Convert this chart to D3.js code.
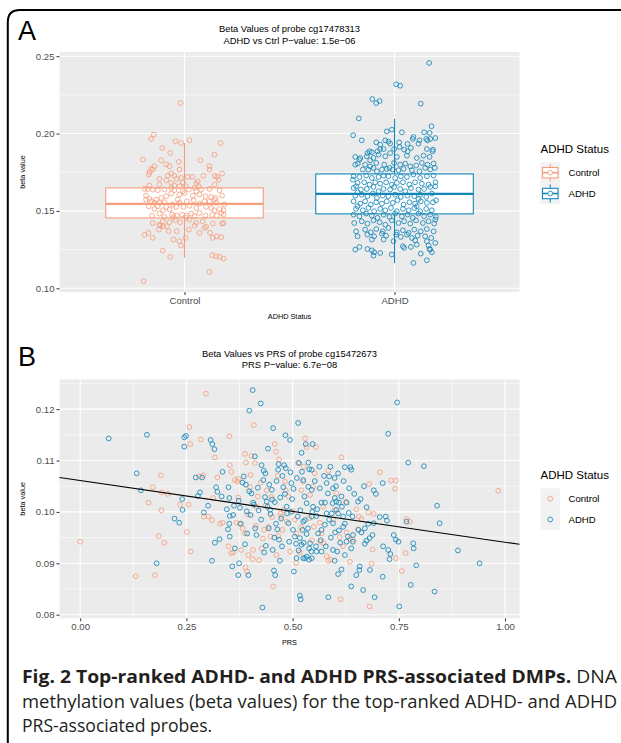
<!DOCTYPE html>
<html>
<head>
<meta charset="utf-8">
<script src="https://cdn.jsdelivr.net/npm/d3@7"></script>
<style>
  body { margin: 0; background: #fff; }
  text { font-family: "Liberation Sans", Arial, sans-serif; }
  text.caption { font-family: "Open Sans", "Noto Sans", sans-serif; }
</style>
</head>
<body>
<svg id="fig" width="621" height="743"></svg>
<script>
// ---- data: panel A (jittered beta values per group, offset in category units) ----
var categories = ["Control", "ADHD"];
var statusColors = ["#F59E7D", "#1487B8"];

// box stats: [lower whisker, q1, median, q3, upper whisker]
var controlBox = [0.1196, 0.1455, 0.1545, 0.1649, 0.1939];
var adhdBox = [0.1162, 0.1481, 0.1610, 0.1739, 0.2096];

var controlPoints = [
  [-0.019,0.2198],
  [-0.146,0.1993],[-0.159,0.1965],[-0.043,0.1950],[0.024,0.1957],[-0.016,0.1939],[0.171,0.1939],
  [-0.106,0.1907],[-0.068,0.1875],[0.143,0.1864],
  [-0.198,0.1832],[-0.111,0.1827],[0.076,0.1827],[-0.027,0.1817],[-0.087,0.1801],[0.119,0.1789],[-0.143,0.1789],[-0.071,0.1789],
  [-0.159,0.1773],[0.119,0.1767],[-0.167,0.1750],[-0.024,0.1767],[-0.151,0.1767],[0.179,0.1741],[0.143,0.1728],[-0.170,0.1735],[-0.063,0.1741],[-0.079,0.1728],[-0.048,0.1728],[0.016,0.1720],[0.037,0.1720],[0.090,0.1728],[0.154,0.1720],
  [-0.119,0.1707],[-0.037,0.1707],[-0.016,0.1713],[-0.087,0.1698],[-0.008,0.1685],[0.063,0.1692],[0.163,0.1702],[0.056,0.1677],[-0.063,0.1681],[-0.119,0.1670],[-0.167,0.1664],[0.005,0.1659],[0.068,0.1659],[0.143,0.1670],[-0.048,0.1664],[-0.024,0.1659],
  [-0.190,0.1642],[-0.175,0.1642],[-0.151,0.1638],[-0.127,0.1634],[-0.095,0.1638],[-0.063,0.1649],[0.021,0.1638],[0.048,0.1649],[0.056,0.1627],[0.079,0.1638],[0.119,0.1642],[0.167,0.1634],[-0.008,0.1627],[-0.048,0.1634],
  [-0.183,0.1599],[-0.087,0.1595],[-0.024,0.1606],[0.000,0.1616],[0.040,0.1599],[0.071,0.1606],[0.100,0.1595],[0.127,0.1590],[0.148,0.1584],[0.179,0.1599],[-0.111,0.1584],[-0.135,0.1573],[-0.063,0.1612],
  [-0.183,0.1573],[-0.167,0.1578],[-0.159,0.1562],[-0.143,0.1552],[-0.119,0.1552],[-0.095,0.1556],[-0.056,0.1541],[-0.032,0.1573],[-0.024,0.1552],[0.011,0.1562],[0.044,0.1569],[0.071,0.1547],[0.095,0.1562],[0.119,0.1562],[0.143,0.1573],[0.151,0.1552],[0.190,0.1541],
  [-0.170,0.1530],[-0.127,0.1530],[-0.087,0.1526],[-0.071,0.1509],[-0.040,0.1526],[-0.005,0.1526],[0.024,0.1534],[0.056,0.1519],[0.103,0.1526],[0.127,0.1519],[0.143,0.1504],[0.167,0.1513],[0.186,0.1504],[-0.103,0.1504],[-0.143,0.1513],
  [-0.154,0.1470],[-0.119,0.1483],[-0.095,0.1461],[-0.059,0.1476],[-0.037,0.1470],[-0.011,0.1476],[0.008,0.1470],[0.032,0.1483],[0.048,0.1466],[0.071,0.1487],[0.100,0.1470],[0.132,0.1474],[0.154,0.1470],[0.175,0.1487],[0.186,0.1476],[-0.052,0.1461],[0.008,0.1455],
  [-0.151,0.1422],[-0.103,0.1433],[-0.071,0.1427],[-0.043,0.1440],[-0.021,0.1427],[0.024,0.1444],[0.056,0.1422],[0.087,0.1433],[0.135,0.1418],[0.179,0.1418],[-0.119,0.1412],[-0.084,0.1401],[0.048,0.1405],[0.103,0.1397],[0.186,0.1422],
  [-0.116,0.1405],[-0.103,0.1401],[-0.075,0.1369],[0.021,0.1379],[0.071,0.1358],[0.122,0.1358],[-0.171,0.1358],[-0.190,0.1345],[-0.151,0.1326],[-0.052,0.1315],[0.005,0.1326],[0.135,0.1326],[0.154,0.1336],[0.175,0.1330],[-0.037,0.1369],[0.095,0.1390],[-0.122,0.1379],
  [-0.024,0.1304],[-0.016,0.1276],[-0.103,0.1244],[-0.068,0.1203],[0.132,0.1214],[0.151,0.1207],[0.167,0.1203],[0.186,0.1192],
  [0.119,0.1106],[-0.195,0.1046]
];

var adhdPoints = [
  [0.165,0.2456],[0.008,0.2318],[0.027,0.2309],[-0.106,0.2223],[-0.087,0.2197],[-0.071,0.2210],[0.125,0.2193],[-0.170,0.2098],
  [-0.197,0.1989],[0.176,0.2047],[-0.037,0.2014],[-0.013,0.2025],[0.035,0.2008],[0.141,0.2008],[0.167,0.2004],[-0.156,0.1956],[-0.087,0.1943],[-0.044,0.1956],[-0.029,0.1948],[0.022,0.1943],[0.090,0.1978],[0.119,0.1956],[0.087,0.1965],[0.151,0.1965],[0.170,0.1965],[0.194,0.1971],[-0.068,0.1900],[-0.021,0.1935],[0.062,0.1933],[0.114,0.1935],[0.157,0.1956],
  [-0.119,0.1885],[-0.129,0.1874],[-0.108,0.1879],[-0.081,0.1885],[-0.052,0.1900],[-0.068,0.1928],[-0.002,0.1900],[0.024,0.1913],[0.046,0.1896],[0.078,0.1907],[0.154,0.1900],[0.183,0.1896],[-0.187,0.1849],[-0.163,0.1842],[-0.132,0.1853],[-0.100,0.1842],[-0.076,0.1864],[-0.044,0.1853],[-0.021,0.1874],[0.011,0.1849],[0.059,0.1857],[0.106,0.1842],[0.138,0.1857],[0.167,0.1849],[0.181,0.1885],[0.062,0.1885],[-0.167,0.1831],[-0.116,0.1827],
  [-0.187,0.1799],[-0.175,0.1806],[-0.140,0.1799],[-0.116,0.1788],[-0.087,0.1810],[-0.049,0.1799],[-0.024,0.1778],[-0.002,0.1810],[0.027,0.1799],[0.051,0.1806],[0.075,0.1788],[0.103,0.1793],[0.130,0.1810],[0.157,0.1799],[0.186,0.1806],[-0.151,0.1767],[-0.124,0.1767],[-0.084,0.1756],[-0.060,0.1767],[-0.037,0.1771],[-0.008,0.1767],[0.019,0.1763],[0.043,0.1771],[0.083,0.1763],[0.119,0.1756],[0.170,0.1767],[0.192,0.1778],[-0.100,0.1778],[0.146,0.1778],
  [-0.195,0.1724],[-0.167,0.1719],[-0.135,0.1728],[-0.108,0.1713],[-0.076,0.1719],[-0.052,0.1728],[-0.029,0.1724],[0.003,0.1713],[0.030,0.1724],[0.059,0.1719],[0.090,0.1735],[0.122,0.1713],[0.154,0.1724],[0.186,0.1728],[-0.176,0.1681],[-0.144,0.1685],[-0.119,0.1670],[-0.092,0.1685],[-0.068,0.1676],[-0.040,0.1685],[-0.013,0.1670],[0.011,0.1681],[0.040,0.1685],[0.071,0.1670],[0.098,0.1685],[0.130,0.1676],[0.162,0.1670],[0.195,0.1685],[-0.198,0.1702],[-0.183,0.1659],
  [-0.195,0.1648],[-0.160,0.1638],[-0.132,0.1642],[-0.100,0.1655],[-0.076,0.1627],[-0.052,0.1642],[-0.021,0.1638],[-0.002,0.1655],[0.027,0.1642],[0.051,0.1627],[0.078,0.1648],[0.114,0.1638],[0.141,0.1642],[0.170,0.1655],[0.194,0.1659],[-0.187,0.1599],[-0.156,0.1605],[-0.129,0.1595],[-0.103,0.1612],[-0.084,0.1584],[-0.056,0.1599],[-0.029,0.1595],[0.003,0.1605],[0.030,0.1590],[0.062,0.1599],[0.094,0.1595],[0.122,0.1605],[0.151,0.1590],[0.178,0.1612],[-0.176,0.1620],[0.114,0.1577],
  [-0.195,0.1562],[-0.163,0.1547],[-0.140,0.1562],[-0.113,0.1541],[-0.087,0.1556],[-0.060,0.1547],[-0.037,0.1562],[-0.008,0.1552],[0.014,0.1569],[0.043,0.1541],[0.071,0.1556],[0.098,0.1547],[0.125,0.1562],[0.154,0.1552],[0.183,0.1556],[0.198,0.1569],[-0.183,0.1513],[-0.151,0.1504],[-0.124,0.1519],[-0.097,0.1498],[-0.068,0.1513],[-0.044,0.1504],[-0.017,0.1519],[0.011,0.1498],[0.040,0.1513],[0.067,0.1504],[0.094,0.1519],[0.122,0.1498],[0.151,0.1513],[0.178,0.1504],[-0.176,0.1530],[0.106,0.1530],
  [-0.195,0.1476],[-0.167,0.1465],[-0.135,0.1483],[-0.108,0.1470],[-0.081,0.1455],[-0.052,0.1476],[-0.024,0.1461],[0.003,0.1483],[0.035,0.1465],[0.062,0.1476],[0.087,0.1455],[0.114,0.1483],[0.141,0.1465],[0.170,0.1476],[0.197,0.1461],[-0.192,0.1422],[-0.156,0.1433],[-0.129,0.1418],[-0.100,0.1439],[-0.071,0.1427],[-0.044,0.1411],[-0.013,0.1439],[0.019,0.1422],[0.046,0.1433],[0.075,0.1418],[0.103,0.1439],[0.135,0.1422],[0.162,0.1433],[0.189,0.1418],[0.194,0.1444],
  [-0.183,0.1368],[-0.140,0.1379],[-0.113,0.1362],[-0.087,0.1383],[-0.056,0.1368],[-0.029,0.1390],[0.011,0.1362],[0.040,0.1375],[0.067,0.1358],[0.094,0.1379],[0.125,0.1368],[0.154,0.1383],[0.186,0.1368],[-0.176,0.1336],[-0.129,0.1347],[-0.097,0.1336],[-0.060,0.1353],[-0.040,0.1340],[0.008,0.1347],[0.030,0.1332],[0.059,0.1347],[0.083,0.1325],[0.110,0.1340],[0.146,0.1336],[0.175,0.1325],[-0.108,0.1315],[-0.052,0.1315],[-0.005,0.1304],[0.098,0.1310],[0.154,0.1304],
  [-0.187,0.1250],[-0.167,0.1267],[-0.129,0.1254],[-0.108,0.1245],[-0.097,0.1233],[-0.100,0.1211],[-0.068,0.1228],[-0.013,0.1218],[0.040,0.1272],[0.046,0.1261],[0.078,0.1267],[0.106,0.1282],[0.125,0.1224],[0.162,0.1276],[0.170,0.1250],[0.178,0.1233],[0.194,0.1293],[0.090,0.1164],[0.154,0.1181],[0.167,0.1254]
];
var yTicksA = [0.10, 0.15, 0.20, 0.25];
var yMinorA = [0.125, 0.175, 0.225];

// ---- data: panel B (PRS, beta value) ----
var prsControl = [
  [0.000,0.0942],[0.131,0.0875],[0.161,0.1018],[0.171,0.1048],[0.176,0.0877],[0.185,0.0953],[0.190,0.1071],[0.191,0.1003],[0.192,0.1038],[0.198,0.0940],[0.206,0.1035],[0.235,0.1014],[0.251,0.0961],[0.255,0.1014],[0.257,0.1165],[0.259,0.1132],[0.260,0.0923],[0.284,0.1141],[0.280,0.1069],[0.290,0.1071],[0.291,0.0991],[0.296,0.1230],[0.302,0.0991],[0.310,0.0984],[0.313,0.1027],[0.317,0.1106],[0.323,0.1067],[0.329,0.0977],[0.335,0.0979],[0.351,0.1147],[0.352,0.1091],[0.356,0.1078],[0.349,0.0933],[0.355,0.0920],[0.360,0.0921],[0.364,0.1062],[0.368,0.0979],[0.370,0.1059],[0.373,0.1064],[0.376,0.0977],[0.379,0.0926],[0.382,0.0968],[0.388,0.0958],[0.388,0.1113],[0.390,0.1096],[0.389,0.0892],[0.393,0.0884],[0.396,0.0916],[0.400,0.1048],[0.401,0.1072],[0.403,0.1109],[0.406,0.0908],[0.407,0.0926],[0.409,0.1169],[0.411,0.1095],[0.414,0.0973],[0.415,0.1010],[0.421,0.0906],[0.425,0.1057],[0.427,0.0929],[0.433,0.0965],[0.439,0.1042],[0.443,0.0971],[0.448,0.0952],[0.450,0.1029],[0.454,0.0855],[0.458,0.1132],[0.461,0.1117],[0.462,0.0916],[0.466,0.0953],[0.468,0.1102],[0.471,0.0997],[0.474,0.0991],[0.479,0.1004],[0.482,0.1059],[0.484,0.1042],[0.486,0.0981],[0.494,0.0923],[0.500,0.1001],[0.508,0.0901],[0.509,0.0958],[0.513,0.1096],[0.517,0.0921],[0.521,0.1042],[0.525,0.1059],[0.526,0.1088],[0.529,0.1143],[0.533,0.1126],[0.539,0.0988],[0.548,0.1049],
  [0.555,0.1126],[0.615,0.1106],[0.705,0.1077],[0.680,0.1054],[0.732,0.1061],[0.743,0.1061],[0.741,0.1045],[0.552,0.1075],[0.584,0.1080],[0.603,0.1036],[0.541,0.1033],[0.678,0.0999],[0.691,0.0996],[0.656,0.0991],[0.662,0.0986],[0.768,0.0986],[0.776,0.0981],[0.654,0.0966],[0.627,0.0960],[0.635,0.0947],[0.642,0.0946],[0.611,0.0951],[0.568,0.0958],[0.565,0.0942],[0.573,0.0939],[0.550,0.0971],[0.580,0.0914],[0.589,0.0907],[0.584,0.0905],[0.619,0.0933],[0.635,0.0903],[0.688,0.0927],[0.686,0.0899],[0.743,0.0910],[0.766,0.0920],[0.757,0.0885],[0.613,0.0830],[0.681,0.0816],[0.984,0.1041],[0.599,0.1004],[0.564,0.0979],
  [0.372,0.1028],[0.395,0.0995],[0.418,0.1030],[0.436,0.1012],[0.452,0.0990],[0.476,0.0965],[0.490,0.1030],[0.505,0.0985],[0.520,0.0970],[0.546,0.0945],[0.572,0.1010],[0.596,0.0985],[0.625,0.1020],[0.650,0.1005],[0.430,0.0948],[0.465,0.1070]
];

var prsAdhd = [
  [0.067,0.1143],[0.157,0.1150],[0.133,0.1075],[0.143,0.1042],[0.180,0.0900],[0.222,0.0987],[0.233,0.0979],[0.240,0.1025],[0.241,0.1004],[0.245,0.1127],[0.245,0.1145],[0.249,0.1148],[0.272,0.1067],[0.287,0.1067],[0.282,0.1038],[0.277,0.1031],[0.291,0.0999],[0.301,0.1012],[0.307,0.1140],[0.311,0.1132],[0.316,0.1122],[0.310,0.0905],[0.317,0.0940],[0.328,0.0947],[0.320,0.1048],[0.323,0.1039],[0.335,0.1078],[0.333,0.1030],[0.349,0.1048],[0.351,0.1027],[0.345,0.1005],[0.352,0.0992],[0.351,0.0977],[0.348,0.0966],[0.352,0.0952],[0.358,0.0894],[0.360,0.0994],[0.364,0.0929],[0.372,0.0877],[0.374,0.0900],[0.373,0.1022],[0.376,0.1008],[0.378,0.0977],[0.382,0.1057],[0.385,0.1069],[0.390,0.1053],[0.396,0.0877],[0.388,0.0937],[0.393,0.0958],[0.398,0.1197],[0.401,0.0994],[0.403,0.1036],[0.406,0.1237],[0.407,0.1018],[0.409,0.1014],[0.411,0.1108],[0.415,0.0955],[0.420,0.1003],[0.425,0.1211],[0.427,0.1091],[0.429,0.0814],[0.431,0.1062],[0.432,0.1080],[0.433,0.0921],[0.435,0.1029],[0.437,0.0934],[0.439,0.1020],[0.441,0.1010],[0.442,0.1123],[0.445,0.1053],[0.447,0.1004],[0.448,0.0996],[0.451,0.1043],[0.453,0.0926],[0.454,0.1163],[0.456,0.0886],[0.459,0.0877],[0.458,0.1019],[0.461,0.0977],[0.464,0.0966],[0.466,0.1082],[0.467,0.1093],[0.468,0.0946],[0.470,0.0905],[0.471,0.1028],[0.475,0.0933],[0.478,0.1048],[0.480,0.1091],[0.483,0.1149],[0.484,0.1085],[0.486,0.1010],[0.487,0.0997],[0.490,0.0978],[0.494,0.1140],[0.495,0.1077],[0.497,0.1056],[0.499,0.1025],[0.501,0.0965],[0.503,0.0884],[0.505,0.0952],[0.508,0.0938],[0.509,0.0910],[0.512,0.0991],[0.513,0.1173],[0.515,0.1095],[0.517,0.0837],[0.519,0.0830],[0.521,0.1115],[0.522,0.1078],[0.525,0.0981],[0.526,0.0940],[0.529,0.0910],[0.531,0.1132],[0.533,0.1017],[0.537,0.1049],[0.539,0.1083],[0.541,0.0939],[0.544,0.0923],[0.548,0.1010],
  [0.547,0.1132],[0.537,0.1096],[0.545,0.1082],[0.563,0.1088],[0.525,0.1062],[0.545,0.1043],[0.564,0.1046],[0.580,0.1056],[0.586,0.1069],[0.589,0.1088],[0.599,0.1066],[0.607,0.1075],[0.623,0.1087],[0.636,0.1087],[0.638,0.1082],[0.595,0.1046],[0.633,0.1046],[0.599,0.1027],[0.615,0.1030],[0.568,0.1018],[0.576,0.1018],[0.594,0.1017],[0.603,0.1020],[0.609,0.1018],[0.627,0.1018],[0.654,0.1020],[0.660,0.1025],[0.674,0.1009],[0.691,0.1042],[0.696,0.1035],[0.712,0.1056],[0.545,0.0991],[0.556,0.0992],[0.580,0.0997],[0.592,0.0997],[0.603,0.1004],[0.607,0.0997],[0.619,0.0991],[0.641,0.0991],[0.595,0.0978],[0.623,0.0977],[0.619,0.0971],[0.529,0.0984],[0.533,0.0957],[0.521,0.0936],[0.539,0.0929],[0.555,0.0933],[0.556,0.0923],[0.568,0.0923],[0.578,0.0933],[0.533,0.0913],[0.525,0.0910],[0.539,0.0907],[0.545,0.0910],[0.595,0.0926],[0.605,0.0923],[0.599,0.0905],[0.607,0.0879],[0.615,0.0888],[0.623,0.0916],[0.627,0.0942],[0.630,0.0952],[0.638,0.0929],[0.642,0.0955],[0.642,0.0942],[0.658,0.0894],[0.657,0.0887],[0.650,0.0877],[0.638,0.0855],[0.666,0.0848],[0.584,0.0834],[0.670,0.0938],[0.674,0.0944],[0.681,0.0949],[0.662,0.0960],[0.670,0.0968],[0.678,0.0977],[0.691,0.0978],[0.682,0.0887],[0.693,0.0834],[0.712,0.0874],[0.713,0.0933],[0.725,0.0926],[0.728,0.0908],[0.730,0.0918],[0.719,0.0991],[0.722,0.0983],[0.725,0.1152],[0.746,0.1213],[0.738,0.0955],[0.743,0.0946],[0.749,0.0942],[0.751,0.0816],[0.768,0.0981],[0.772,0.1096],[0.778,0.0858],[0.784,0.0939],[0.785,0.0929],[0.791,0.0896],[0.809,0.1089],[0.834,0.0845],[0.840,0.1012],[0.846,0.0978],[0.889,0.0925],[0.940,0.0900],[0.560,0.0958],[0.568,0.0965],[0.576,0.0975],[0.600,0.0960],[0.609,0.0964],[0.517,0.0949],[0.523,0.0965],
  [0.362,0.1012],[0.392,0.1001],[0.418,0.1047],[0.426,0.0985],[0.444,0.0968],[0.452,0.1024],[0.462,0.1060],[0.473,0.0987],[0.482,0.1035],[0.492,0.0942],[0.502,0.1045],[0.510,0.1066],[0.518,0.1003],[0.528,0.1030],[0.536,0.0968],[0.552,0.1060],[0.558,0.1005],[0.566,0.0945],[0.574,0.1070],[0.583,0.1036],[0.590,0.0950],[0.602,0.1050],[0.612,0.0940],[0.620,0.1060],[0.632,0.0998],[0.645,0.1035],[0.655,0.0965],[0.668,0.1050],[0.688,0.0955],[0.705,0.0990],[0.412,0.0968],[0.398,0.1040],[0.436,0.1075],[0.457,0.0950],[0.476,0.1070],[0.496,0.1000],[0.514,0.0925],[0.546,0.1000],[0.586,0.0985],[0.616,0.1010]
];

// linear fit: [intercept, slope]
var prsFit = [0.1061, -0.0120];
var xTicksB = [0, 0.25, 0.5, 0.75, 1.0];
var xMinorB = [0.125, 0.375, 0.625, 0.875];
var yTicksB = [0.08, 0.09, 0.10, 0.11, 0.12];
var yMinorB = [0.085, 0.095, 0.105, 0.115, 0.125];

// ---- layout ----
var panelL = 59.5, panelR = 519.5;
var panelA = { top: 52, bottom: 292 };
var panelB = { top: 379.3, bottom: 618.3 };
var gridMajor = 1.1, gridMinor = 0.55;
var pointR = 2.4;

var svg = d3.select("#fig");

// outer frame (rounded top-left corner)
svg.append("path")
  .attr("d", "M7.8,743 V22 Q7.8,10 20,10 H621")
  .attr("fill", "none")
  .attr("stroke", "#000")
  .attr("stroke-width", 2);

// panel letters
svg.append("text").attr("x", 18).attr("y", 40).attr("font-size", 27).text("A");
svg.append("text").attr("x", 18).attr("y", 366).attr("font-size", 27).text("B");

function styleAxis(g) {
  g.select(".domain").remove();
  g.selectAll(".tick line").attr("stroke", "#333333").attr("stroke-width", 1);
  g.selectAll(".tick text").attr("fill", "#4D4D4D").attr("font-size", 9.6);
}

function titles(lines, y0) {
  lines.forEach(function(t, i) {
    svg.append("text")
      .attr("x", (panelL + panelR) / 2)
      .attr("y", y0 + i * 11.6)
      .attr("text-anchor", "middle")
      .attr("font-size", 9.4)
      .text(t);
  });
}

// ================= Panel A =================
var xA = d3.scalePoint().domain(categories).range([panelL, panelR]).padding(0.595);
var yA = d3.scaleLinear().domain([0.0976, 0.2527]).range([panelA.bottom, panelA.top]);

titles(["Beta Values of probe cg17478313", "ADHD vs Ctrl P\u2212value: 1.5e\u221206"], 32);

var gA = svg.append("g");
gA.append("rect")
  .attr("x", panelL).attr("y", panelA.top)
  .attr("width", panelR - panelL).attr("height", panelA.bottom - panelA.top)
  .attr("fill", "#EBEBEB");

gA.selectAll(".minor").data(yMinorA).enter().append("line")
  .attr("x1", panelL).attr("x2", panelR)
  .attr("y1", d => yA(d)).attr("y2", d => yA(d))
  .attr("stroke", "#fff").attr("stroke-width", gridMinor);
gA.selectAll(".majorY").data(yTicksA).enter().append("line")
  .attr("x1", panelL).attr("x2", panelR)
  .attr("y1", d => yA(d)).attr("y2", d => yA(d))
  .attr("stroke", "#fff").attr("stroke-width", gridMajor);
gA.selectAll(".majorX").data(categories).enter().append("line")
  .attr("x1", d => xA(d)).attr("x2", d => xA(d))
  .attr("y1", panelA.top).attr("y2", panelA.bottom)
  .attr("stroke", "#fff").attr("stroke-width", gridMajor);

// boxplots
var boxes = [controlBox, adhdBox];
var boxW = xA.step() * 0.75;
boxes.forEach(function(b, i) {
  var cx = xA(categories[i]);
  var col = statusColors[i];
  gA.append("line").attr("x1", cx).attr("x2", cx)
    .attr("y1", yA(b[4])).attr("y2", yA(b[3]))
    .attr("stroke", col).attr("stroke-width", 1.1);
  gA.append("line").attr("x1", cx).attr("x2", cx)
    .attr("y1", yA(b[1])).attr("y2", yA(b[0]))
    .attr("stroke", col).attr("stroke-width", 1.1);
  gA.append("rect")
    .attr("x", cx - boxW / 2).attr("width", boxW)
    .attr("y", yA(b[3])).attr("height", yA(b[1]) - yA(b[3]))
    .attr("fill", "#fff").attr("stroke", col).attr("stroke-width", 1.1);
  gA.append("line")
    .attr("x1", cx - boxW / 2).attr("x2", cx + boxW / 2)
    .attr("y1", yA(b[2])).attr("y2", yA(b[2]))
    .attr("stroke", col).attr("stroke-width", 2.2);
});

// jittered points
[controlPoints, adhdPoints].forEach(function(pts, i) {
  var cx = xA(categories[i]);
  gA.append("g").selectAll("circle").data(pts).enter().append("circle")
    .attr("cx", d => cx + d[0] * xA.step())
    .attr("cy", d => yA(d[1]))
    .attr("r", pointR)
    .attr("fill", "none")
    .attr("stroke", statusColors[i])
    .attr("stroke-width", 0.85);
});

svg.append("g")
  .attr("transform", `translate(${panelL}, 0)`)
  .call(d3.axisLeft(yA).tickValues(yTicksA).tickFormat(d3.format(".2f")).tickSize(3).tickPadding(2))
  .call(styleAxis);
svg.append("g")
  .attr("transform", `translate(0, ${panelA.bottom})`)
  .call(d3.axisBottom(xA).tickSize(3).tickPadding(2))
  .call(styleAxis);

svg.append("text")
  .attr("transform", `translate(25, ${(panelA.top + panelA.bottom) / 2}) rotate(-90)`)
  .attr("text-anchor", "middle").attr("font-size", 7.3)
  .text("beta value");
svg.append("text")
  .attr("x", (panelL + panelR) / 2).attr("y", 318.5)
  .attr("text-anchor", "middle").attr("font-size", 7.3)
  .text("ADHD Status");

// legend A (boxplot keys)
var legA = svg.append("g").attr("transform", "translate(540.5, 0)");
legA.append("text").attr("x", 0).attr("y", 152.5).attr("font-size", 11.5).text("ADHD Status");
categories.forEach(function(c, i) {
  var ky = 162.3 + i * 20.8, kw = 19.5, kh = 20.8;
  var k = legA.append("g").attr("transform", `translate(0, ${ky})`);
  k.append("rect").attr("width", kw).attr("height", kh).attr("fill", "#F2F2F2");
  k.append("line").attr("x1", kw / 2).attr("x2", kw / 2).attr("y1", 1.5).attr("y2", kh - 1.5)
    .attr("stroke", statusColors[i]).attr("stroke-width", 1.1);
  k.append("rect").attr("x", 2).attr("y", kh * 0.25).attr("width", kw - 4).attr("height", kh * 0.5)
    .attr("fill", "#fff").attr("stroke", statusColors[i]).attr("stroke-width", 1.1);
  k.append("line").attr("x1", 2).attr("x2", kw - 2).attr("y1", kh / 2).attr("y2", kh / 2)
    .attr("stroke", statusColors[i]).attr("stroke-width", 1.6);
  k.append("circle").attr("cx", kw / 2).attr("cy", kh / 2).attr("r", pointR)
    .attr("fill", "#fff").attr("stroke", statusColors[i]).attr("stroke-width", 0.85);
  legA.append("text").attr("x", 28).attr("y", ky + kh / 2).attr("dy", "0.35em")
    .attr("font-size", 9.6).text(c);
});

// ================= Panel B =================
var xB = d3.scaleLinear().domain([-0.0487, 1.034]).range([panelL, panelR]);
var yB = d3.scaleLinear().domain([0.0793, 0.1258]).range([panelB.bottom, panelB.top]);

titles(["Beta Values vs PRS of probe cg15472673", "PRS P\u2212value: 6.7e\u221208"], 356.5);

var gB = svg.append("g");
gB.append("rect")
  .attr("x", panelL).attr("y", panelB.top)
  .attr("width", panelR - panelL).attr("height", panelB.bottom - panelB.top)
  .attr("fill", "#EBEBEB");
gB.selectAll(".minorY").data(yMinorB).enter().append("line")
  .attr("x1", panelL).attr("x2", panelR)
  .attr("y1", d => yB(d)).attr("y2", d => yB(d))
  .attr("stroke", "#fff").attr("stroke-width", gridMinor);
gB.selectAll(".minorX").data(xMinorB).enter().append("line")
  .attr("x1", d => xB(d)).attr("x2", d => xB(d))
  .attr("y1", panelB.top).attr("y2", panelB.bottom)
  .attr("stroke", "#fff").attr("stroke-width", gridMinor);
gB.selectAll(".majorY").data(yTicksB).enter().append("line")
  .attr("x1", panelL).attr("x2", panelR)
  .attr("y1", d => yB(d)).attr("y2", d => yB(d))
  .attr("stroke", "#fff").attr("stroke-width", gridMajor);
gB.selectAll(".majorX").data(xTicksB).enter().append("line")
  .attr("x1", d => xB(d)).attr("x2", d => xB(d))
  .attr("y1", panelB.top).attr("y2", panelB.bottom)
  .attr("stroke", "#fff").attr("stroke-width", gridMajor);

[prsControl, prsAdhd].forEach(function(pts, i) {
  gB.append("g").selectAll("circle").data(pts).enter().append("circle")
    .attr("cx", d => xB(d[0]))
    .attr("cy", d => yB(d[1]))
    .attr("r", pointR)
    .attr("fill", "none")
    .attr("stroke", statusColors[i])
    .attr("stroke-width", 0.85);
});

var fitX = xB.domain();
gB.append("line")
  .attr("x1", xB(fitX[0])).attr("y1", yB(prsFit[0] + prsFit[1] * fitX[0]))
  .attr("x2", xB(fitX[1])).attr("y2", yB(prsFit[0] + prsFit[1] * fitX[1]))
  .attr("stroke", "#000").attr("stroke-width", 1.1);

svg.append("g")
  .attr("transform", `translate(${panelL}, 0)`)
  .call(d3.axisLeft(yB).tickValues(yTicksB).tickFormat(d3.format(".2f")).tickSize(3).tickPadding(2))
  .call(styleAxis);
svg.append("g")
  .attr("transform", `translate(0, ${panelB.bottom})`)
  .call(d3.axisBottom(xB).tickValues(xTicksB).tickFormat(d3.format(".2f")).tickSize(3).tickPadding(2))
  .call(styleAxis);

svg.append("text")
  .attr("transform", `translate(25, ${(panelB.top + panelB.bottom) / 2}) rotate(-90)`)
  .attr("text-anchor", "middle").attr("font-size", 7.3)
  .text("beta value");
svg.append("text")
  .attr("x", (panelL + panelR) / 2).attr("y", 644.5)
  .attr("text-anchor", "middle").attr("font-size", 7.3)
  .text("PRS");

// legend B (point keys)
var legB = svg.append("g").attr("transform", "translate(540.5, 0)");
legB.append("text").attr("x", 0).attr("y", 479.3).attr("font-size", 11.5).text("ADHD Status");
categories.forEach(function(c, i) {
  var ky = 488.3 + i * 20.8, kw = 19.5, kh = 20.8;
  legB.append("rect").attr("y", ky).attr("width", kw).attr("height", kh).attr("fill", "#F2F2F2");
  legB.append("circle").attr("cx", kw / 2).attr("cy", ky + kh / 2).attr("r", pointR)
    .attr("fill", "none").attr("stroke", statusColors[i]).attr("stroke-width", 0.85);
  legB.append("text").attr("x", 28).attr("y", ky + kh / 2).attr("dy", "0.35em")
    .attr("font-size", 9.6).text(c);
});

// ================= Caption =================
var capX = 22, capW = 595;
var cap1 = svg.append("text").attr("class", "caption").attr("x", capX).attr("y", 683)
  .attr("font-size", 16).attr("fill", "#231F20");
cap1.append("tspan").attr("font-weight", "bold")
  .text("Fig. 2 Top-ranked ADHD- and ADHD PRS-associated DMPs.");
cap1.append("tspan").text(" DNA");
var cap2 = svg.append("text").attr("class", "caption").attr("x", capX).attr("y", 708)
  .attr("font-size", 16).attr("fill", "#231F20")
  .text("methylation values (beta values) for the top-ranked ADHD- and ADHD");
var cap3 = svg.append("text").attr("class", "caption").attr("x", capX).attr("y", 732)
  .attr("font-size", 16).attr("fill", "#231F20")
  .text("PRS-associated probes.");

// fit caption lines to the reference width
var scale2 = capW / cap2.node().getComputedTextLength();
var capSize = 16 * Math.min(scale2, 1.1);
[cap1, cap2, cap3].forEach(function(t) { t.attr("font-size", capSize); });
cap1.attr("textLength", capW).attr("lengthAdjust", "spacingAndGlyphs");
cap2.attr("textLength", capW).attr("lengthAdjust", "spacingAndGlyphs");
</script>
</body>
</html>
